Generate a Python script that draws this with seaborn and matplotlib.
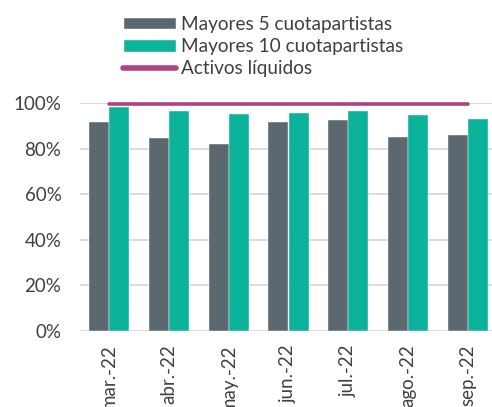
import numpy as np
import pandas as pd
import matplotlib
matplotlib.use('Agg')
import matplotlib.pyplot as plt
import seaborn as sns
from matplotlib.patches import Patch
from matplotlib.lines import Line2D

# data
months = ['mar.-22', 'abr.-22', 'may.-22', 'jun.-22', 'jul.-22', 'ago.-22', 'sep.-22']
top5 = [0.918, 0.847, 0.822, 0.918, 0.926, 0.853, 0.859]
top10 = [0.984, 0.966, 0.953, 0.959, 0.966, 0.950, 0.931]
liquidos = [0.995, 0.995, 0.995, 0.995, 0.995, 0.995, 0.995]

series = ['Mayores 5 cuotapartistas', 'Mayores 10 cuotapartistas']
colors = ['#5c6870', '#0bb39b']
line_color = '#b2417f'
text_color = '#404040'

df = pd.DataFrame({
    'mes': months * 2,
    'serie': [series[0]] * len(months) + [series[1]] * len(months),
    'valor': top5 + top10,
})

sns.set_style('white')
plt.rcParams['font.family'] = ['Lato', 'DejaVu Sans']

fig = plt.figure(figsize=(4.92, 4.07), dpi=100)
W, H = 492, 407
left, right = 79.5, 497.5
y0, y100 = 330.5, 103.2
ax = fig.add_axes([left / W, (H - y0) / H, (right - left) / W, (y0 - y100) / H])

sns.barplot(data=df, x='mes', y='valor', hue='serie', palette=colors,
            saturation=1, width=0.67, gap=0, edgecolor='white', linewidth=0.3,
            legend=False, ax=ax)

ax.plot(range(len(months)), liquidos, color=line_color, lw=2.6,
        solid_capstyle='round', clip_on=False, zorder=5)

ax.set_xlim(-0.5, 6.5)
ax.set_ylim(0, 1.0)
ax.set_yticks(np.arange(0, 1.01, 0.2))
ax.set_yticklabels([f'{int(round(v * 100))}%' for v in np.arange(0, 1.01, 0.2)])
ax.yaxis.grid(True, color='#d9d9d9', lw=1.3)
ax.set_axisbelow(True)
for s in ax.spines.values():
    s.set_visible(False)
ax.set_xlabel('')
ax.set_ylabel('')
ax.tick_params(axis='both', length=0, labelsize=13.5, colors=text_color)
ax.tick_params(axis='y', pad=13)
ax.tick_params(axis='x', pad=10)
plt.setp(ax.get_xticklabels(), rotation=90)

handles = [Patch(facecolor=colors[0]), Patch(facecolor=colors[1]),
           Line2D([0], [0], color=line_color, lw=4, solid_capstyle='round')]
labels = series + ['Activos líquidos']
fig.legend(handles, labels, loc='upper left', bbox_to_anchor=(115 / W, 1 - 8 / H),
           frameon=False, fontsize=13.7, handlelength=2.8, handleheight=0.65,
           handletextpad=0.25, labelspacing=0.28, borderaxespad=0,
           labelcolor=text_color)

fig.savefig('out.png', dpi=100)
